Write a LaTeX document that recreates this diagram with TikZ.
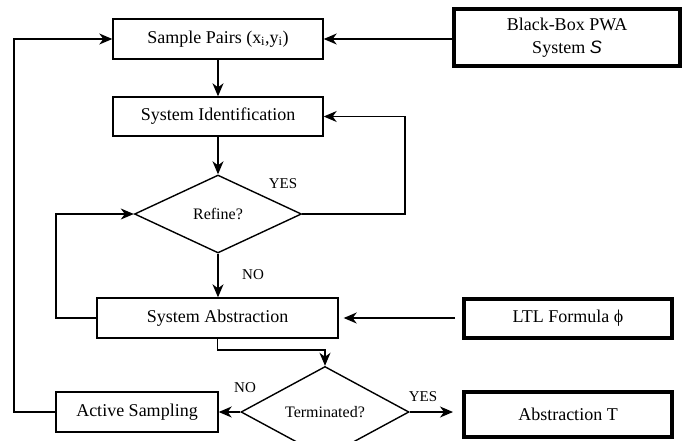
\documentclass[tikz,border=0pt]{standalone}
\usepackage{fontspec}
\setmainfont{Liberation Serif}
\setsansfont{Liberation Sans}
\usetikzlibrary{arrows.meta,shapes.geometric,calc}
\begin{document}
\begin{tikzpicture}[x=1pt,y=-1pt,
  box/.style={draw, line width=1.4pt, inner sep=0pt, font=\fontsize{18}{20}\selectfont},
  thickbox/.style={draw, line width=4pt, inner sep=0pt, align=center, font=\fontsize{18}{23}\selectfont},
  dec/.style={draw, diamond, line width=1.4pt, inner sep=0pt, font=\fontsize{16}{18}\selectfont},
  conn/.style={line width=1.3pt},
  arr/.style={conn, -{Stealth[length=13pt,width=11pt,inset=4pt]}},
  lbl/.style={font=\fontsize{15}{17}\selectfont, inner sep=0pt}]
\useasboundingbox (0,0) rectangle (699,440);
\node[box, minimum width=210pt, minimum height=40pt] (sp) at (218,39) {Sample Pairs (x\textsubscript{i},y\textsubscript{i})};
\node[thickbox, minimum width=226pt, minimum height=57pt] (bb) at (567,37.5) {Black-Box PWA\\System {\sffamily\itshape S}};
\node[box, minimum width=210pt, minimum height=39pt] (si) at (218,116.5) {System Identification};
\node[dec, minimum width=167pt, minimum height=78pt] (rf) at (218,214) {Refine?};
\node[box, minimum width=241pt, minimum height=40pt] (sa) at (217.5,318) {System Abstraction};
\node[thickbox, minimum width=208pt, minimum height=39pt] (ltl) at (568,318.5) {LTL Formula ϕ};
\node[dec, minimum width=168pt, minimum height=87pt] (tm) at (325,412) {Terminated?};
\node[box, minimum width=162pt, minimum height=40pt] (as) at (137,412) {Active Sampling};
\node[thickbox, minimum width=208pt, minimum height=45pt] (at) at (568,414.5) {Abstraction T};
\coordinate (rr) at (405,214);
\coordinate (ll) at (56,318);
\coordinate (ol) at (14,412);
\coordinate (sb) at (217.5,350);
\draw[arr] (sp.east -| bb.west) -- (sp.east);
\draw[arr] (sp.south) -- (si.north);
\draw[arr] (si.south) -- (rf.north);
\draw[arr] (rf.east) -- (rr) |- (si.east);
\draw[arr] (rf.south) -- (rf.south |- sa.north);
\draw[arr] (sa.west) -- (ll) |- (rf.west);
\draw[arr, shorten <=7pt, shorten >=5pt] (sa.east -| ltl.west) -- (sa.east);
\draw[arr] (sa.south) -- (sb) -| (tm.north);
\draw[arr] (tm.west) -- (as.east);
\draw[arr, shorten >=9pt] (tm.east) -- (tm.east -| at.west);
\draw[arr] (as.west) -- (ol) |- (sp.west);
\node[lbl] (yes1) at (283,184) {YES};
\node[lbl] (no1) at (253,275) {NO};
\node[lbl] (no2) at (245,388) {NO};
\node[lbl] (yes2) at (423,397) {YES};
\end{tikzpicture}
\end{document}
